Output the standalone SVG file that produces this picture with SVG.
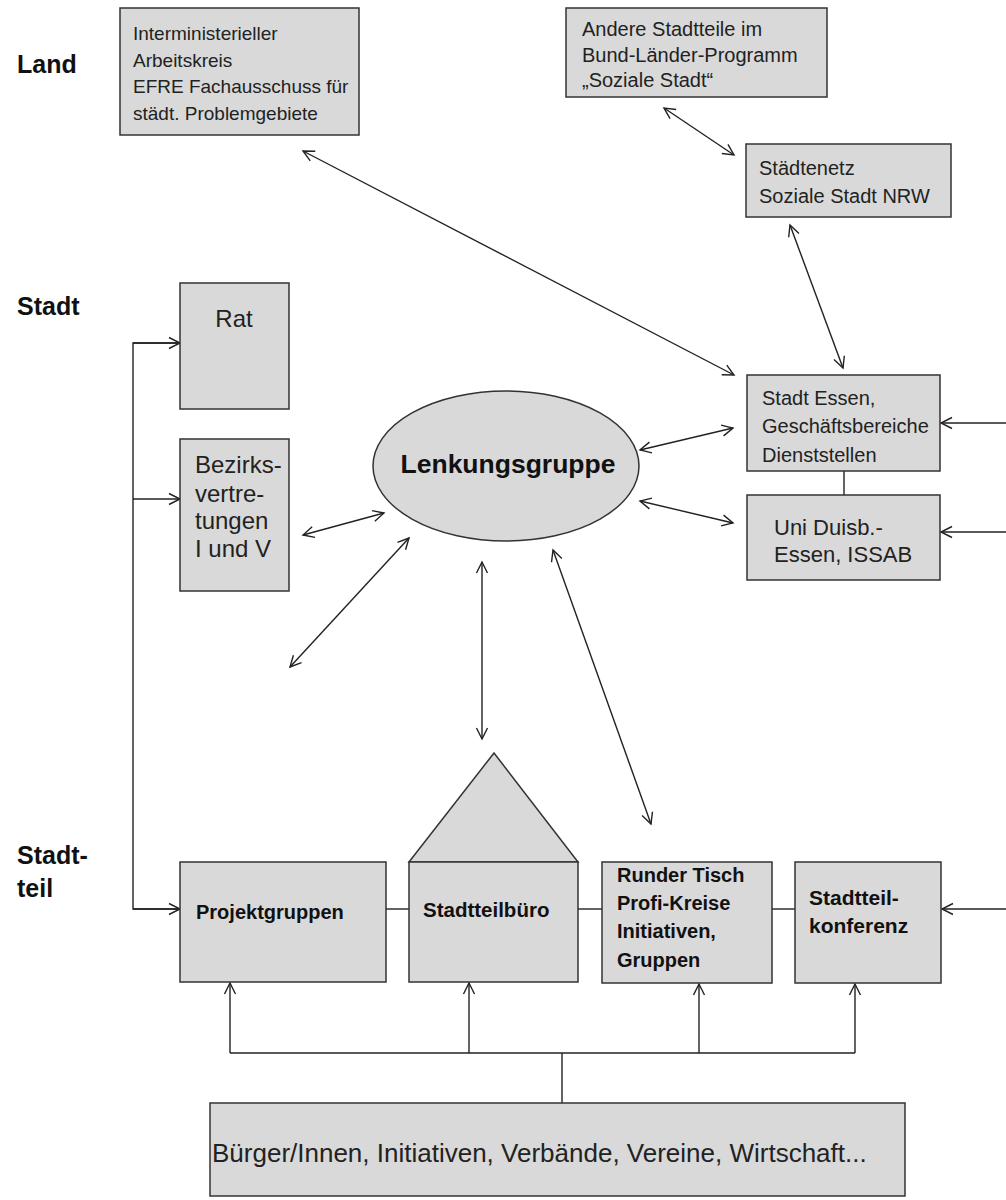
<svg xmlns="http://www.w3.org/2000/svg" width="1006" height="1200" viewBox="0 0 1006 1200">
<style>
.box{fill:#d9d9d9;stroke:#333;stroke-width:1.5}
.t{font-family:"Liberation Sans",Arial,sans-serif;fill:#222}
.b{font-family:"Liberation Sans",Arial,sans-serif;font-weight:bold;fill:#111}
.ln{stroke:#222;stroke-width:1.4;fill:none}
.ar{marker-end:url(#ah)}
.da{marker-end:url(#ah);marker-start:url(#ah)}
</style>
<defs>
<marker id="ah" markerUnits="userSpaceOnUse" markerWidth="14" markerHeight="14" viewBox="0 0 14 14" refX="12" refY="7" orient="auto-start-reverse">
<path d="M1,1.5 L12,7 L1,12.5" fill="none" stroke="#222" stroke-width="1.4"/>
</marker>
</defs>
<rect width="1006" height="1200" fill="#fff"/>

<g id="levels">
<text class="b" x="17" y="73" font-size="25">Land</text>
<text class="b" x="17" y="315" font-size="25">Stadt</text>
<text class="b" x="17" y="864" font-size="25">Stadt-</text>
<text class="b" x="17" y="897" font-size="25">teil</text>
</g>

<g id="connectors">
<line class="ln da" x1="303" y1="151" x2="734" y2="375"/>
<line class="ln da" x1="664" y1="108" x2="734" y2="155"/>
<line class="ln da" x1="790" y1="225" x2="843" y2="368"/>
<line class="ln da" x1="640" y1="450" x2="733" y2="428"/>
<line class="ln da" x1="640" y1="501" x2="733" y2="523"/>
<line class="ln da" x1="303" y1="535" x2="384" y2="513"/>
<line class="ln da" x1="409" y1="538" x2="290" y2="667"/>
<line class="ln da" x1="482" y1="562" x2="482" y2="739"/>
<line class="ln da" x1="553" y1="550" x2="651" y2="824"/>
<line class="ln" x1="844" y1="471" x2="844" y2="495"/>
<line class="ln ar" x1="1006" y1="423" x2="941" y2="423"/>
<line class="ln ar" x1="1006" y1="532" x2="941" y2="532"/>
<line class="ln ar" x1="1006" y1="909" x2="942" y2="909"/>
<polyline class="ln" points="180,343 133,343 133,909 180,909"/>
<line class="ln ar" x1="133" y1="343" x2="180" y2="343"/>
<line class="ln ar" x1="133" y1="499" x2="180" y2="499"/>
<line class="ln ar" x1="133" y1="909" x2="180" y2="909"/>
<line class="ln" x1="386" y1="909" x2="409" y2="909"/>
<line class="ln" x1="578" y1="909" x2="602" y2="909"/>
<line class="ln" x1="772" y1="909" x2="795" y2="909"/>
<line class="ln" x1="230" y1="1053" x2="855" y2="1053"/>
<line class="ln" x1="562" y1="1053" x2="562" y2="1103"/>
<line class="ln ar" x1="230" y1="1053" x2="230" y2="983"/>
<line class="ln ar" x1="469" y1="1053" x2="469" y2="983"/>
<line class="ln ar" x1="699" y1="1053" x2="699" y2="984"/>
<line class="ln ar" x1="855" y1="1053" x2="855" y2="984"/>
</g>

<g id="interministeriell">
<rect class="box" x="120" y="8" width="239" height="127"/>
<text class="t" font-size="19" x="133" y="40">Interministerieller</text>
<text class="t" font-size="19" x="133" y="67">Arbeitskreis</text>
<text class="t" font-size="19" x="133" y="93">EFRE Fachausschuss für</text>
<text class="t" font-size="19" x="133" y="120">städt. Problemgebiete</text>
</g>

<g id="andere-stadtteile">
<rect class="box" x="566" y="8" width="261" height="89"/>
<text class="t" font-size="20" x="582" y="36">Andere Stadtteile im</text>
<text class="t" font-size="20" x="582" y="62">Bund-Länder-Programm</text>
<text class="t" font-size="20" x="582" y="87">„Soziale Stadt“</text>
</g>

<g id="staedtenetz">
<rect class="box" x="746" y="144" width="205" height="73"/>
<text class="t" font-size="20" x="759" y="175">Städtenetz</text>
<text class="t" font-size="20" x="759" y="203">Soziale Stadt NRW</text>
</g>

<g id="stadt-essen">
<rect class="box" x="747" y="375" width="193" height="96"/>
<text class="t" font-size="20" x="762" y="405">Stadt Essen,</text>
<text class="t" font-size="20" x="762" y="433">Geschäftsbereiche</text>
<text class="t" font-size="20" x="762" y="462">Dienststellen</text>
</g>

<g id="uni">
<rect class="box" x="747" y="495" width="193" height="85"/>
<text class="t" font-size="22" x="774" y="535">Uni Duisb.-</text>
<text class="t" font-size="22" x="774" y="562">Essen, ISSAB</text>
</g>

<g id="rat">
<rect class="box" x="180" y="283" width="109" height="126"/>
<text class="t" font-size="24" x="234" y="327" text-anchor="middle">Rat</text>
</g>

<g id="bezirk">
<rect class="box" x="180" y="439" width="109" height="152"/>
<text class="t" font-size="24" x="195" y="473">Bezirks-</text>
<text class="t" font-size="24" x="195" y="502">vertre-</text>
<text class="t" font-size="24" x="195" y="529">tungen</text>
<text class="t" font-size="24" x="195" y="557">I und V</text>
</g>

<g id="lenkungsgruppe">
<ellipse class="box" cx="506" cy="466" rx="133" ry="75"/>
<text class="b" font-size="26.5" x="508" y="473" text-anchor="middle">Lenkungsgruppe</text>
</g>

<g id="projektgruppen">
<rect class="box" x="180" y="862" width="206" height="120"/>
<text class="b" font-size="20" x="196" y="919">Projektgruppen</text>
</g>

<g id="stadtteilbuero">
<polygon class="box" points="409,862 494,753 578,862"/>
<rect class="box" x="409" y="862" width="169" height="120"/>
<text class="b" font-size="20.5" x="423" y="917">Stadtteilbüro</text>
</g>

<g id="runder-tisch">
<rect class="box" x="602" y="862" width="170" height="121"/>
<text class="b" font-size="20" x="617" y="882">Runder Tisch</text>
<text class="b" font-size="20" x="617" y="910">Profi-Kreise</text>
<text class="b" font-size="20" x="617" y="938">Initiativen,</text>
<text class="b" font-size="20" x="617" y="967">Gruppen</text>
</g>

<g id="stadtteilkonferenz">
<rect class="box" x="795" y="862" width="146" height="121"/>
<text class="b" font-size="21" x="809" y="905">Stadtteil-</text>
<text class="b" font-size="21" x="809" y="933">konferenz</text>
</g>

<g id="buerger">
<rect class="box" x="210" y="1103" width="695" height="93"/>
<text class="t" font-size="26" x="212" y="1162">Bürger/Innen, Initiativen, Verbände, Vereine, Wirtschaft...</text>
</g>
</svg>
